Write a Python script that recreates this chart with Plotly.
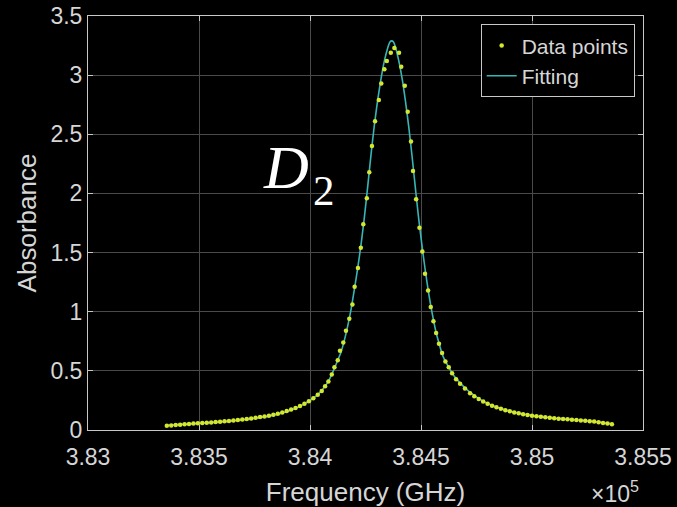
import plotly.graph_objects as go

# Measured absorbance samples (frequency in GHz)
freq_data = [
    383355, 383375, 383395, 383415, 383435, 383455, 383475, 383495, 383515, 383535,
    383555, 383575, 383595, 383615, 383635, 383655, 383675, 383695, 383715, 383735,
    383755, 383775, 383795, 383815, 383835, 383855, 383875, 383895, 383915, 383935,
    383955, 383975, 383995, 384015, 384035,
    384053, 384068, 384083, 384098, 384110, 384125, 384135, 384150, 384162, 384177,
    384191, 384201, 384216, 384229, 384240, 384256, 384267, 384279, 384293, 384310,
    384321, 384335, 384346, 384364, 384380, 384401, 384411, 384427, 384440, 384455,
    384464, 384478, 384493, 384506, 384518, 384532, 384544, 384556, 384568, 384581,
    384595, 384610, 384625, 384640, 384658, 384676, 384698, 384721,
    384740, 384760, 384780, 384800, 384820, 384840, 384860, 384880, 384900, 384920,
    384940, 384960, 384980, 385000, 385020, 385040, 385060, 385080, 385100, 385120,
    385140, 385160, 385180, 385200, 385220, 385240, 385260, 385280, 385300, 385320,
    385340, 385360,
]
absorb_data = [
    0.035, 0.038, 0.042, 0.045, 0.048, 0.051, 0.054, 0.057, 0.059, 0.062,
    0.064, 0.067, 0.070, 0.073, 0.076, 0.080, 0.084, 0.088, 0.093, 0.098,
    0.103, 0.109, 0.115, 0.121, 0.129, 0.138, 0.148, 0.160, 0.173, 0.187,
    0.203, 0.222, 0.243, 0.268, 0.297,
    0.33, 0.37, 0.41, 0.47, 0.53, 0.59, 0.67, 0.74, 0.84, 0.94,
    1.06, 1.21, 1.37, 1.54, 1.74, 1.96, 2.18, 2.40, 2.61, 2.79,
    2.93, 3.05, 3.12, 3.19, 3.23, 3.19, 3.07, 2.91, 2.69, 2.44,
    2.19, 1.95, 1.71, 1.51, 1.32, 1.18, 1.04, 0.92, 0.82, 0.73,
    0.65, 0.58, 0.53, 0.48, 0.43, 0.39, 0.35, 0.31,
    0.285, 0.262, 0.240, 0.222, 0.206, 0.192, 0.180, 0.168, 0.158, 0.149,
    0.141, 0.134, 0.127, 0.121, 0.116, 0.111, 0.107, 0.103, 0.099, 0.096,
    0.093, 0.090, 0.087, 0.084, 0.081, 0.078, 0.075, 0.071, 0.066, 0.060,
    0.054, 0.048,
]

# Fitted line profile
freq_fit = [
    383355, 383450, 383550, 383650, 383750, 383850, 383920, 383980, 384030, 384060,
    384085, 384105, 384125, 384140, 384155, 384170, 384185, 384200, 384215, 384230,
    384245, 384260, 384275, 384290, 384305, 384320, 384335, 384350, 384360, 384368,
    384376, 384386, 384400, 384415, 384430, 384445, 384460, 384475, 384490, 384505,
    384520, 384535, 384550, 384565, 384580, 384600, 384625, 384650, 384680, 384720,
    384770, 384830, 384900, 385000, 385100, 385200, 385300, 385360,
]
absorb_fit = [
    0.040, 0.050, 0.062, 0.077, 0.098, 0.132, 0.172, 0.225, 0.29, 0.35,
    0.42, 0.50, 0.59, 0.66, 0.76, 0.88, 1.02, 1.19, 1.37, 1.57,
    1.80, 2.06, 2.33, 2.58, 2.79, 2.97, 3.12, 3.23, 3.28, 3.29,
    3.28, 3.23, 3.12, 2.97, 2.78, 2.56, 2.31, 2.04, 1.78, 1.55,
    1.34, 1.15, 0.99, 0.85, 0.74, 0.62, 0.53, 0.455, 0.39, 0.32,
    0.255, 0.20, 0.16, 0.122, 0.100, 0.085, 0.068, 0.052,
]

x_tickvals = [383000, 383500, 384000, 384500, 385000, 385500]
x_ticktext = ["3.83", "3.835", "3.84", "3.845", "3.85", "3.855"]
y_tickvals = [0, 0.5, 1, 1.5, 2, 2.5, 3, 3.5]
y_ticktext = ["0", "0.5", "1", "1.5", "2", "2.5", "3", "3.5"]

FONT = "Liberation Sans, Arial, sans-serif"
SERIF = "Liberation Serif, serif"
TXT = "#d6d6d6"
AXIS = "#c8c8c8"
GRID = "#4a4a4a"

fig = go.Figure()
fig.add_trace(go.Scatter(
    x=freq_fit, y=absorb_fit, mode="lines", name="Fitting",
    line=dict(color="#38b6b6", width=1.6, shape="spline", smoothing=0.6),
))
fig.add_trace(go.Scatter(
    x=freq_data, y=absorb_data, mode="markers", name="Data points",
    marker=dict(color="#d4e62e", size=4.5, line=dict(width=0)),
))

axis_common = dict(
    showline=True, linecolor=AXIS, linewidth=1, mirror="allticks",
    ticks="inside", ticklen=5, tickcolor=AXIS, tickwidth=1,
    showgrid=True, gridcolor=GRID, gridwidth=1, zeroline=False,
    tickfont=dict(family=FONT, size=23, color=TXT),
    automargin=False,
)

fig.update_xaxes(
    range=[383000, 385500], tickmode="array",
    tickvals=x_tickvals, ticktext=x_ticktext,
    ticklabelstandoff=6,
    title=dict(text="Frequency (GHz)", font=dict(family=FONT, size=26, color=TXT), standoff=14),
    **axis_common,
)
fig.update_yaxes(
    range=[0, 3.5], tickmode="array",
    tickvals=y_tickvals, ticktext=y_ticktext,
    title=dict(text="Absorbance", font=dict(family=FONT, size=26, color=TXT), standoff=6),
    **axis_common,
)

fig.update_layout(
    width=677, height=507,
    margin=dict(l=88, r=34, t=16, b=77),
    paper_bgcolor="black", plot_bgcolor="black",
    showlegend=True,
    legend=dict(
        x=0.985, y=0.98, xanchor="right", yanchor="top",
        bgcolor="black", bordercolor=AXIS, borderwidth=1,
        font=dict(family=FONT, size=21, color=TXT),
        traceorder="reversed", tracegroupgap=0,
    ),
    annotations=[
        # line label: italic D with a lowered subscript 2
        dict(
            text="<i>D</i>", xref="paper", yref="paper",
            x=0.311, y=0.635, xanchor="left", yanchor="middle",
            showarrow=False, font=dict(family=SERIF, size=62, color="white"),
        ),
        dict(
            text="2", xref="paper", yref="paper",
            x=0.401, y=0.578, xanchor="left", yanchor="middle",
            showarrow=False, font=dict(family=SERIF, size=43, color="white"),
        ),
        dict(
            text="×10<sup>5</sup>", xref="paper", yref="paper",
            x=0.996, y=-0.15, xanchor="right", yanchor="middle",
            showarrow=False, font=dict(family=FONT, size=23, color=TXT),
        ),
    ],
)

fig.write_html("out.html")
